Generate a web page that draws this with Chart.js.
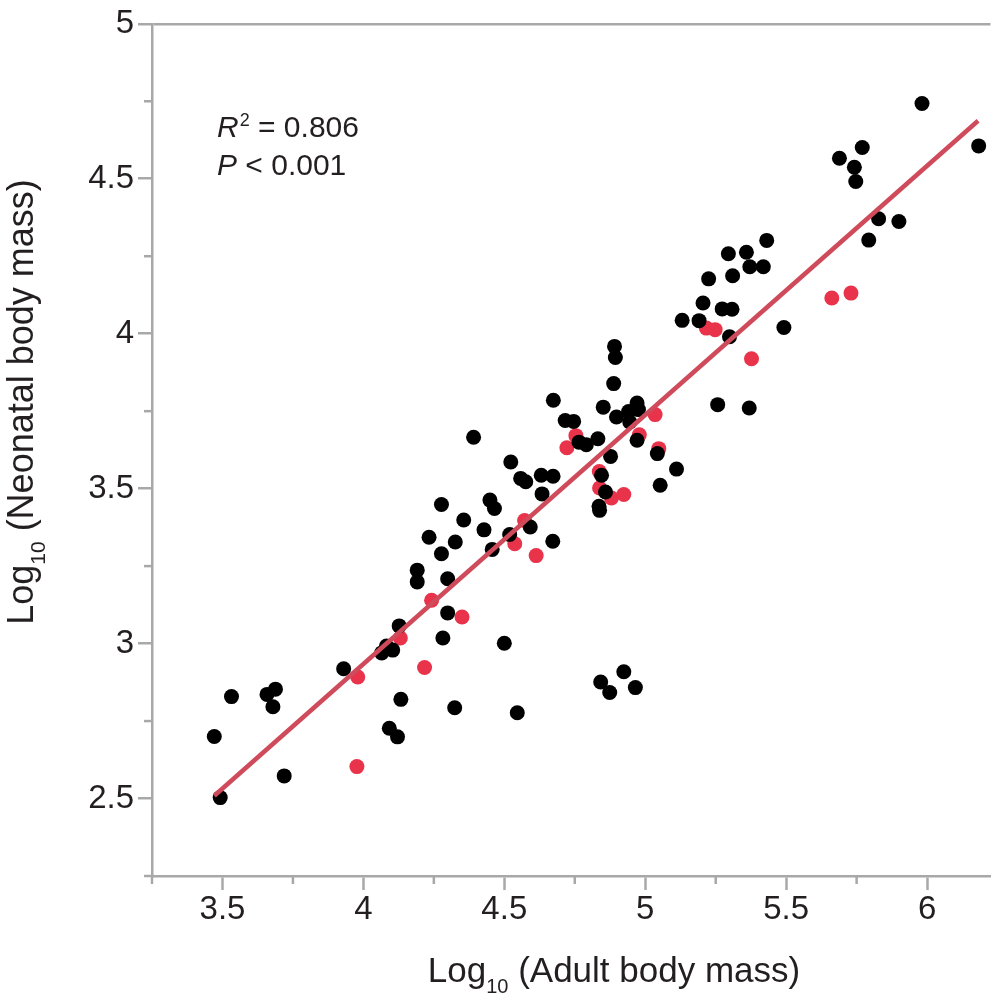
<!DOCTYPE html>
<html>
<head>
<meta charset="utf-8">
<script src="https://cdn.jsdelivr.net/npm/chart.js@4.4.0/dist/chart.umd.min.js"></script>
<style>
  html, body { margin: 0; padding: 0; background: #fff; }
  #chart { display: block; }
</style>
</head>
<body>
<canvas id="chart" width="998" height="999"></canvas>
<script>
// black points (adult mass, neonatal mass), log10
const BLACK_X = [3.471, 3.532, 3.658, 3.688, 3.679, 3.719, 3.492, 3.930, 4.065, 4.082,
  4.104, 4.133, 4.092, 4.121, 4.282, 4.324, 4.391, 4.523, 4.558, 4.576,
  4.631, 4.673, 4.634, 4.277, 4.449, 4.465, 4.356, 4.428, 4.233, 4.326,
  4.277, 4.457, 4.519, 4.592, 4.672, 4.191, 4.191, 4.299, 4.299, 4.127,
  4.500, 4.546, 4.842, 4.874, 4.924, 4.965, 4.674, 4.891, 4.894, 4.888,
  4.851, 4.971, 4.941, 4.976, 4.898, 4.716, 4.746, 4.945, 4.765, 4.791,
  4.832, 4.971, 5.043, 4.877, 5.111, 5.053, 4.845, 4.859, 4.836, 4.838,
  5.299, 5.982, 6.183, 5.770, 5.689, 5.742, 5.747, 5.828, 5.900, 5.793,
  5.431, 5.295, 5.359, 5.371, 5.419, 5.310, 5.225, 5.205, 5.273, 5.308,
  5.131, 5.191, 5.492, 5.257, 5.369];
const BLACK_Y = [2.700, 2.829, 2.836, 2.853, 2.796, 2.573, 2.503, 2.919, 2.970, 2.992,
  2.979, 2.820, 2.727, 2.699, 3.018, 2.793, 3.666, 3.586, 3.533, 3.522,
  3.543, 3.540, 3.483, 3.449, 3.463, 3.436, 3.399, 3.367, 3.343, 3.328,
  3.290, 3.304, 3.352, 3.376, 3.330, 3.237, 3.199, 3.209, 3.099, 3.057,
  3.001, 2.777, 2.876, 2.842, 2.909, 2.858, 3.785, 3.959, 3.923, 3.839,
  3.763, 3.776, 3.749, 3.755, 3.731, 3.720, 3.717, 3.715, 3.650, 3.642,
  3.661, 3.656, 3.613, 3.604, 3.563, 3.511, 3.543, 3.489, 3.443, 3.430,
  3.990, 4.743, 4.606, 4.601, 4.566, 4.537, 4.491, 4.371, 4.362, 4.302,
  4.301, 4.258, 4.263, 4.216, 4.216, 4.187, 4.177, 4.099, 4.080, 4.079,
  4.043, 4.042, 4.020, 3.771, 3.760];

// red points
const RED_X = [3.980, 3.977, 4.217, 4.131, 4.242, 4.350, 4.572, 4.537, 4.613, 4.754,
  4.722, 4.979, 5.048, 5.035, 4.837, 4.838, 4.880, 4.924, 5.217, 5.248,
  5.662, 5.730, 5.377];
const RED_Y = [2.892, 2.603, 2.923, 3.018, 3.140, 3.086, 3.397, 3.322, 3.284, 3.671,
  3.632, 3.674, 3.629, 3.739, 3.555, 3.502, 3.470, 3.481, 4.018, 4.013,
  4.115, 4.131, 3.919];

// regression line ends
const FIT_X = [3.471, 6.181];
const FIT_Y = [2.509, 4.687];

const X_TICKS = [3.5, 4, 4.5, 5, 5.5, 6];
const X_MINOR = [3.25, 3.75, 4.25, 4.75, 5.25, 5.75];
const Y_TICKS = [2.5, 3, 3.5, 4, 4.5, 5];
const Y_MINOR = [2.25, 2.75, 3.25, 3.75, 4.25, 4.75];

const AXIS = '#a8a8a8';
const INK = '#231f20';
const FONT = '"Liberation Sans", Arial, sans-serif';

const toPts = (xs, ys) => xs.map((x, i) => ({ x: x, y: ys[i] }));

// minor ticks, axis titles and the stats text
const extras = {
  id: 'extras',
  afterDraw(chart) {
    const c = chart.ctx;
    const xs = chart.scales.x, ys = chart.scales.y;
    const a = chart.chartArea;
    c.save();
    c.strokeStyle = AXIS;
    c.lineWidth = 2.5;
    X_MINOR.forEach(v => {
      const p = xs.getPixelForValue(v);
      c.beginPath(); c.moveTo(p, a.bottom); c.lineTo(p, a.bottom + 8); c.stroke();
    });
    Y_MINOR.forEach(v => {
      const p = ys.getPixelForValue(v);
      c.beginPath(); c.moveTo(a.left, p); c.lineTo(a.left - 8, p); c.stroke();
    });

    c.fillStyle = INK;
    c.textBaseline = 'alphabetic';
    c.textAlign = 'left';

    // "Log10 (...)" with subscript
    function logTitle(rest, size, cx, base) {
      const big = size + 'px ' + FONT, small = Math.round(size * 0.58) + 'px ' + FONT;
      c.font = big; const w1 = c.measureText('Log').width;
      c.font = small; const w2 = c.measureText('10').width;
      c.font = big; const w3 = c.measureText(' ' + rest).width;
      let x = cx - (w1 + w2 + w3) / 2;
      c.fillText('Log', x, base); x += w1;
      c.font = small; c.fillText('10', x, base + size * 0.32); x += w2;
      c.font = big; c.fillText(' ' + rest, x, base);
    }
    logTitle('(Adult body mass)', 35, 614, 982);
    c.save();
    c.translate(33, 402);
    c.rotate(-Math.PI / 2);
    logTitle('(Neonatal body mass)', 36, 0, 0);
    c.restore();

    // stats
    let x = 217;
    c.font = 'italic 30px ' + FONT;
    c.fillText('R', x, 137); x += c.measureText('R').width + 1;
    c.font = '18px ' + FONT;
    c.fillText('2', x, 126); x += c.measureText('2').width;
    c.font = '30px ' + FONT;
    c.fillText(' = 0.806', x, 137);
    x = 217;
    c.font = 'italic 30px ' + FONT;
    c.fillText('P', x, 175); x += c.measureText('P').width;
    c.font = '30px ' + FONT;
    c.fillText(' < 0.001', x, 175);
    c.restore();
  }
};

new Chart(document.getElementById('chart'), {
  type: 'scatter',
  data: {
    datasets: [
      {
        type: 'line',
        data: toPts(FIT_X, FIT_Y),
        borderColor: '#cf4a5a',
        borderWidth: 4.5,
        pointRadius: 0,
        fill: false,
        order: 0
      },
      {
        data: toPts(BLACK_X, BLACK_Y),
        backgroundColor: '#000000',
        borderWidth: 0,
        pointRadius: 7.5,
        order: 1
      },
      {
        data: toPts(RED_X, RED_Y),
        backgroundColor: '#e8334a',
        borderWidth: 0,
        pointRadius: 7.5,
        order: 2
      }
    ]
  },
  options: {
    responsive: false,
    animation: false,
    devicePixelRatio: 1,
    layout: { padding: { top: 22, left: 0, right: 0, bottom: 0 } },
    plugins: { legend: { display: false }, tooltip: { enabled: false } },
    scales: {
      x: {
        type: 'linear',
        min: 3.25,
        max: 6.225,
        afterBuildTicks: s => { s.ticks = X_TICKS.map(v => ({ value: v })); },
        afterFit: s => { s.height = 123; },
        ticks: {
          color: INK,
          font: { family: FONT, size: 33 },
          padding: 0,
          maxRotation: 0,
          autoSkip: false,
          callback: v => String(v)
        },
        grid: {
          drawOnChartArea: false,
          tickLength: 14,
          tickColor: AXIS,
          tickWidth: 2.5
        },
        border: { display: true, color: AXIS, width: 2.5 }
      },
      y: {
        type: 'linear',
        min: 2.25,
        max: 5,
        afterBuildTicks: s => { s.ticks = Y_TICKS.map(v => ({ value: v })); },
        afterFit: s => { s.width = 152; },
        ticks: {
          color: INK,
          font: { family: FONT, size: 33 },
          padding: 4,
          autoSkip: false,
          callback: v => String(v)
        },
        grid: {
          drawOnChartArea: true,
          color: ctx => (ctx.tick && ctx.tick.value === 5 ? AXIS : 'rgba(0,0,0,0)'),
          lineWidth: 2.5,
          tickLength: 14,
          tickColor: AXIS,
          tickWidth: 2.5
        },
        border: { display: true, color: AXIS, width: 2.5 }
      }
    }
  },
  plugins: [extras]
});
</script>
</body>
</html>
